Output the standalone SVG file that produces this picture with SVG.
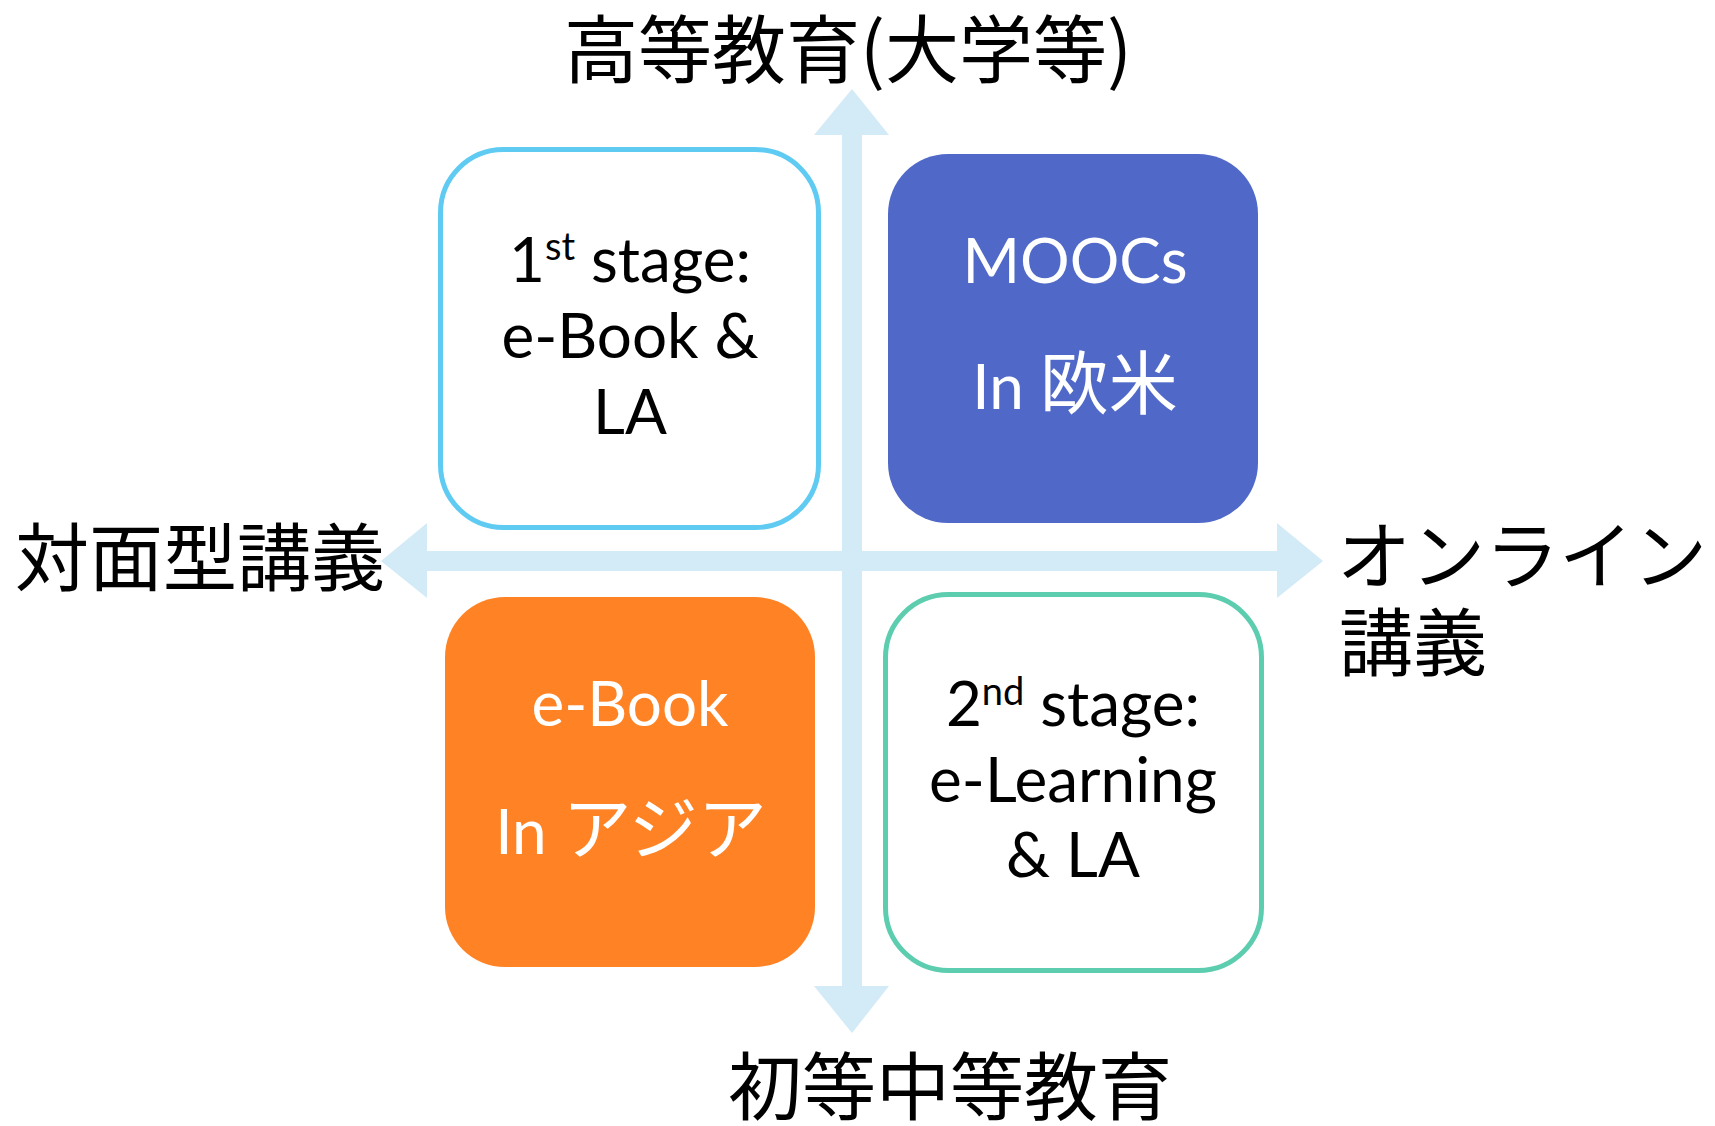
<svg xmlns="http://www.w3.org/2000/svg" width="1715" height="1126" viewBox="0 0 1715 1126">
<style>
.axis{fill:#D3EAF7;stroke:none}
.lbl{font-family:"Noto Sans CJK JP","Noto Sans",sans-serif;font-size:74px;fill:#000}
.bt{font-family:Lato,"Noto Sans CJK JP",sans-serif;font-size:62px;text-anchor:middle}
.sup{font-size:38px}
.cjk{font-family:"Noto Sans CJK JP",sans-serif;font-size:69px}
.dark{fill:#000}
.light{fill:#fff}
</style>
<rect width="1715" height="1126" fill="#fff"/>
<g id="connectors">
<polygon class="axis" points="852,89 889,135 862,135 862,986 889,986 852,1033 814,986 842,986 842,135 814,135"/>
<polygon class="axis" points="381,561 427,523 427,551 1277,551 1277,523 1323,561 1277,598 1277,571 427,571 427,598"/>
</g>
<g id="label-top"><text class="lbl" x="848" y="77" text-anchor="middle">高等教育(大学等)</text></g>
<g id="label-bottom"><text class="lbl" x="950" y="1114" text-anchor="middle">初等中等教育</text></g>
<g id="label-left"><text class="lbl" x="200" y="585" text-anchor="middle">対面型講義</text></g>
<g id="label-right"><text class="lbl" x="1337" y="583">オンライン</text><text class="lbl" x="1339" y="670">講義</text></g>
<g id="node-stage1">
<rect x="440.5" y="149.5" width="378" height="378" rx="63" fill="#fff" stroke="#5FCBF2" stroke-width="5"/>
<text class="bt dark" x="630" y="282">1<tspan class="sup" dy="-22">st</tspan><tspan dy="22"> stage:</tspan></text>
<text class="bt dark" x="630" y="358">e-Book &amp;</text>
<text class="bt dark" x="630" y="434">LA</text>
</g>
<g id="node-moocs">
<rect x="888" y="154" width="370" height="369" rx="60" fill="#5069C8"/>
<text class="bt light" x="1075" y="283">MOOCs</text>
<text class="bt light" x="1075" y="409">In <tspan class="cjk">欧米</tspan></text>
</g>
<g id="node-ebook">
<rect x="445" y="597" width="370" height="370" rx="60" fill="#FF8224"/>
<text class="bt light" x="630" y="726">e-Book</text>
<text class="bt light" x="631" y="854">In <tspan class="cjk">アジア</tspan></text>
</g>
<g id="node-stage2">
<rect x="885.5" y="594.5" width="376" height="376" rx="63" fill="#fff" stroke="#5CCDAE" stroke-width="5"/>
<text class="bt dark" x="1073" y="726">2<tspan class="sup" dy="-21">nd</tspan><tspan dy="21"> stage:</tspan></text>
<text class="bt dark" x="1073" y="802">e-Learning</text>
<text class="bt dark" x="1073" y="877">&amp; LA</text>
</g>
</svg>
